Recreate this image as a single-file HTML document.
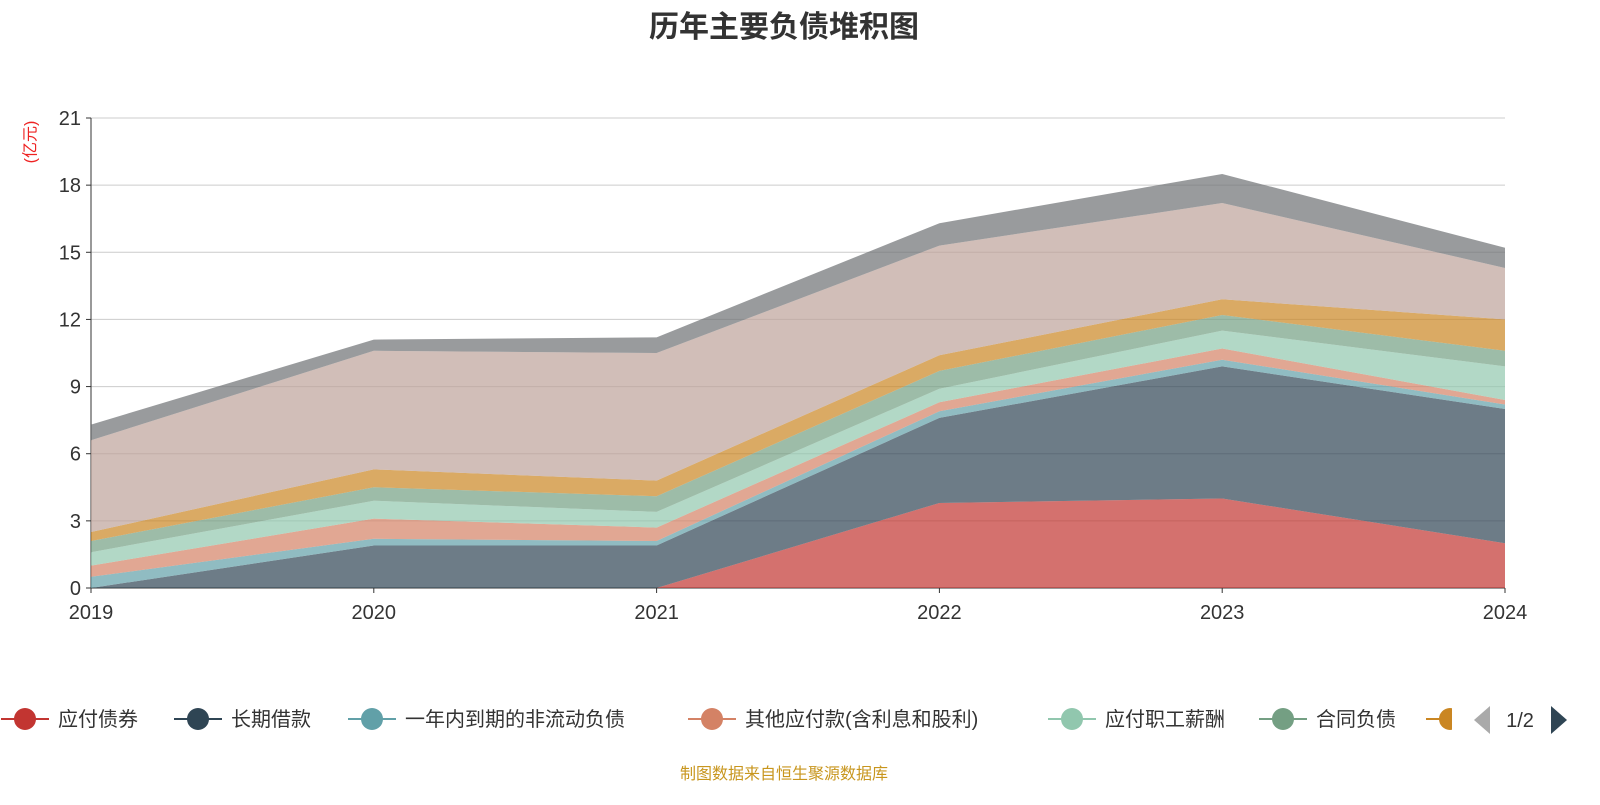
<!DOCTYPE html>
<html><head><meta charset="utf-8"><style>
body{margin:0;width:1600px;height:800px;background:#fff;font-family:"Liberation Sans","Noto Sans CJK SC",sans-serif;overflow:hidden}
</style></head><body>
<svg id="c" width="1600" height="800" xmlns="http://www.w3.org/2000/svg"></svg>
<script>
const years=["2019","2020","2021","2022","2023","2024"];
const seriesNames=["应付债券","长期借款","一年内到期的非流动负债","其他应付款(含利息和股利)","应付职工薪酬","合同负债","应付账款","短期借款","其他"];
const s0=[0,0,0,3.8,4.0,2.0];
const s1=[0,1.9,1.9,3.8,5.9,6.0];
const s2=[0.5,0.3,0.2,0.3,0.3,0.2];
const s3=[0.5,0.9,0.6,0.4,0.5,0.2];
const s4=[0.6,0.8,0.7,0.6,0.8,1.5];
const s5=[0.5,0.6,0.7,0.8,0.7,0.7];
const s6=[0.4,0.8,0.7,0.7,0.7,1.4];
const s7=[4.1,5.3,5.7,4.9,4.3,2.3];
const s8=[0.7,0.5,0.7,1.0,1.3,0.9];
const yTicks=[0,3,6,9,12,15,18,21];
const colors=["#c23531","#2f4554","#61a0a8","#d48265","#91c7ae","#749f83","#ca8622","#bda29a","#6e7074"];
const series=[s0,s1,s2,s3,s4,s5,s6,s7,s8];
const NS="http://www.w3.org/2000/svg";
const svg=document.getElementById('c');
const X0=91,X1=1505,Y0=588,Y1=118;
const xs=i=>X0+(X1-X0)*i/(years.length-1);
const ys=v=>Y0-(Y0-Y1)*v/21;
function el(t,a,txt){const e=document.createElementNS(NS,t);for(const k in a)e.setAttribute(k,a[k]);if(txt!=null)e.textContent=txt;svg.appendChild(e);return e;}
let t=el('text',{x:784,y:37,'text-anchor':'middle','font-size':30,'font-weight':'bold',fill:'#333'},'历年主要负债堆积图');


yTicks.forEach(v=>{
 const g=el('line',{x1:X0,x2:X1,y1:ys(v),y2:ys(v),stroke:v===0?'#333':'#ccc','stroke-width':1});
 
 
 const tk=el('line',{x1:X0-5,x2:X0,y1:ys(v),y2:ys(v),stroke:'#333'});
 
 
 const l=el('text',{x:X0-10,y:ys(v)+7,'text-anchor':'end','font-size':20,fill:'#333'},v);
 
 
});
let ax=el('line',{x1:X0,x2:X0,y1:Y1,y2:Y0,stroke:'#333'});


let yt=el('text',{x:31,y:142,'text-anchor':'middle','dominant-baseline':'central','font-size':16,fill:'#e22',transform:'rotate(-90 31 142)'},'(亿元)');


let cum=years.map(()=>0);
series.forEach((s,k)=>{
 const lo=cum.slice();cum=cum.map((c,i)=>c+s[i]);
 let d='M'+years.map((_,i)=>xs(i)+','+ys(cum[i])).join(' L');
 for(let i=years.length-1;i>=0;i--)d+=' L'+xs(i)+','+ys(lo[i]);
 const p=el('path',{d:d+'Z',fill:colors[k],'fill-opacity':0.7,stroke:'none'});
 
 
});
years.forEach((y,i)=>{
 const tk=el('line',{x1:xs(i),x2:xs(i),y1:Y0,y2:Y0+5,stroke:'#333'});
 
 
 const l=el('text',{x:xs(i),y:619,'text-anchor':'middle','font-size':20,fill:'#333'},y);
 
 
});
const legX=[25,198,372,712,1072,1283,1450];
for(let k=0;k<7;k++){
 const x=legX[k];
 const ln=el('line',{x1:x-24,x2:x+24,y1:719,y2:719,stroke:colors[k],'stroke-width':2});
 
 
 const c=el('circle',{cx:x,cy:719,r:11,fill:colors[k]});
 
 
 if(k<6){const l=el('text',{x:x+33,y:726,'font-size':20,fill:'#333'},seriesNames[k]);
 
 }
}
let cover=el('rect',{x:1452,y:700,width:148,height:40,fill:'#fff'});


let pl=el('path',{d:'M1490,706 L1490,734 L1474,720Z',fill:'#aaa'});


let pt=el('text',{x:1520,y:727,'text-anchor':'middle','font-size':20,fill:'#333'},'1/2');


let pn=el('path',{d:'M1551,706 L1551,734 L1567,720Z',fill:'#2f4554'});


let src=el('text',{x:784,y:779,'text-anchor':'middle','font-size':16,fill:'#c8961e'},'制图数据来自恒生聚源数据库');


</script>
</body></html>
